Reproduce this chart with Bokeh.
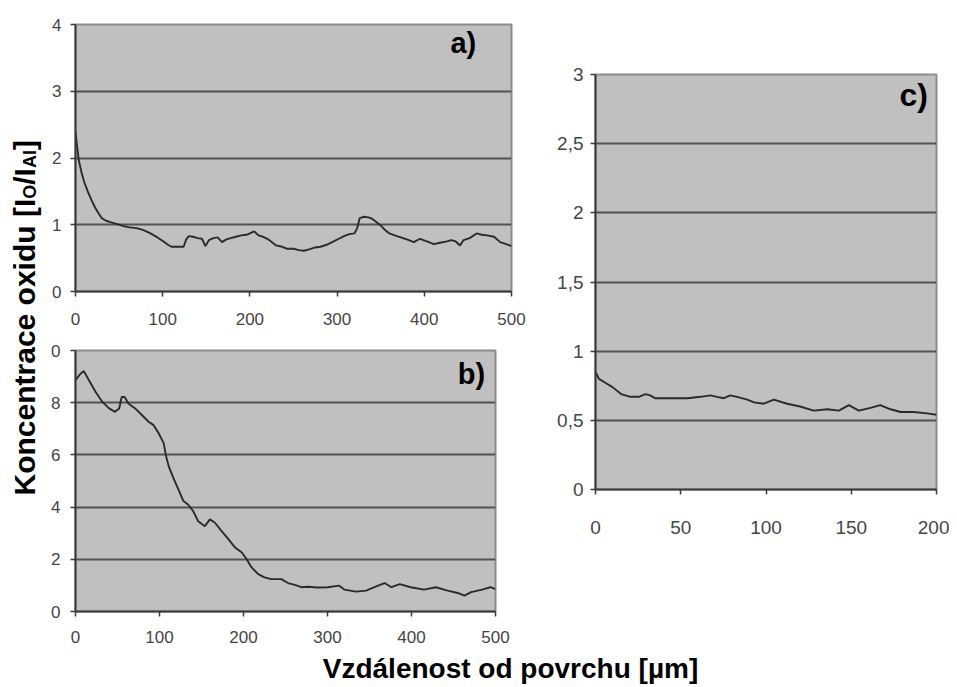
import math
from bokeh.plotting import figure
from bokeh.models import Range1d, FixedTicker, Label
from bokeh.layouts import row, column
from bokeh.embed import file_html
from bokeh.resources import INLINE

# ---------------- data ----------------
# panel a)
a_x = [0, 2, 4, 7, 10, 14, 18, 22, 26, 30, 35, 40, 48, 55, 62, 70, 78, 86, 94, 101,
       106, 110, 118, 124, 127, 130, 135, 140, 145, 149, 153, 158, 163, 168, 173, 178,
       184, 190, 196, 200, 205, 210, 215, 220, 225, 230, 237, 243, 250, 256, 262, 268,
       275, 281, 288, 296, 302, 308, 314, 320, 323, 326, 331, 336, 340, 345, 350, 355,
       360, 366, 373, 380, 388, 395, 403, 411, 418, 426, 431, 436, 441, 445, 452, 460,
       466, 472, 480, 487, 494, 500]
a_y = [2.40, 2.15, 1.95, 1.78, 1.64, 1.50, 1.38, 1.27, 1.18, 1.10, 1.06, 1.04, 1.01, 0.98,
       0.96, 0.95, 0.92, 0.87, 0.81, 0.75, 0.70, 0.67, 0.67, 0.67, 0.78, 0.83, 0.82, 0.80,
       0.79, 0.68, 0.77, 0.80, 0.81, 0.74, 0.78, 0.80, 0.82, 0.84, 0.85, 0.87, 0.90, 0.84,
       0.82, 0.79, 0.74, 0.69, 0.67, 0.64, 0.64, 0.62, 0.61, 0.63, 0.66, 0.67, 0.70, 0.75,
       0.79, 0.83, 0.86, 0.87, 0.95, 1.10, 1.12, 1.11, 1.09, 1.04, 0.99, 0.92, 0.87, 0.84,
       0.81, 0.78, 0.74, 0.79, 0.75, 0.71, 0.73, 0.75, 0.77, 0.75, 0.69, 0.77, 0.80, 0.87,
       0.85, 0.84, 0.82, 0.74, 0.71, 0.68]

# panel b)
b_x = [0, 6, 10, 16, 24, 32, 40, 47, 52, 55, 58.5, 63, 71, 79, 87, 93, 99, 105, 107.5,
       111, 116.6, 122.6, 128.5, 134, 140, 146, 154, 160, 166, 174, 182, 190, 198, 203.6,
       209.6, 217.5, 225, 233, 245, 253, 261, 269, 277, 287, 300, 314, 320, 334, 346,
       358, 368, 376, 386, 399, 415, 429, 443, 455, 463, 471, 484, 494, 500]
b_y = [8.86, 9.11, 9.21, 8.86, 8.41, 8.03, 7.78, 7.65, 7.78, 8.22, 8.22, 7.97, 7.78, 7.53,
       7.27, 7.14, 6.83, 6.45, 6.00, 5.56, 5.11, 4.67, 4.23, 4.10, 3.85, 3.46, 3.27, 3.53,
       3.40, 3.08, 2.77, 2.45, 2.26, 2.01, 1.69, 1.43, 1.31, 1.24, 1.24, 1.09, 1.02, 0.93,
       0.95, 0.92, 0.93, 0.99, 0.84, 0.76, 0.80, 0.96, 1.09, 0.93, 1.05, 0.93, 0.84, 0.93,
       0.80, 0.71, 0.61, 0.74, 0.84, 0.93, 0.86]

# panel c)
c_x = [0, 2, 6, 10, 15, 20.5, 25.4, 29.3, 32, 35, 44, 54, 61.6, 67.4, 71.3, 75.3, 79, 83,
       89, 93, 98.7, 104.6, 112.4, 120, 128, 136, 142.7, 148.6, 154.4, 161.3, 167, 173,
       179, 186.7, 194.5, 200]
c_y = [0.85, 0.80, 0.77, 0.74, 0.69, 0.67, 0.67, 0.69, 0.68, 0.66, 0.66, 0.66, 0.67, 0.68,
       0.67, 0.66, 0.68, 0.67, 0.65, 0.63, 0.62, 0.65, 0.62, 0.60, 0.57, 0.58, 0.57, 0.61,
       0.57, 0.59, 0.61, 0.58, 0.56, 0.56, 0.55, 0.54]

a_xticks = [0, 100, 200, 300, 400, 500]
a_yticks = [0, 1, 2, 3, 4]
b_xticks = [0, 100, 200, 300, 400, 500]
b_yticks = [0, 2, 4, 6, 8, 10]
b_ylabels = {10: "0"}
c_xticks = [0, 50, 100, 150, 200]
c_yticks = [0, 0.5, 1, 1.5, 2, 2.5, 3]
c_ylabels = {0: "0", 0.5: "0,5", 1: "1", 1.5: "1,5", 2: "2", 2.5: "2,5", 3: "3"}

y_title = "Koncentrace oxidu [I"
x_title = "Vzdálenost od povrchu [µm]"

FONT = "Liberation Sans"
BG = "#c0c0c0"
GRID = "#525252"
LINE = "#2a2a2a"


def panel(w, h, xr, yr, bl, br, bt, bb, xticks, yticks, ylabels, fs, xstand, ystand):
    p = figure(width=w, height=h, x_range=Range1d(*xr), y_range=Range1d(*yr),
               output_backend="svg", toolbar_location=None, title=None,
               min_border_left=bl, min_border_right=br,
               min_border_top=bt, min_border_bottom=bb)
    p.background_fill_color = BG
    p.border_fill_color = "white"
    p.outline_line_color = "#8c8c8c"
    p.outline_line_width = 2
    p.xgrid.visible = False
    p.ygrid.ticker = FixedTicker(ticks=yticks[1:-1])
    p.ygrid.grid_line_color = GRID
    p.ygrid.grid_line_width = 2
    p.xaxis.ticker = FixedTicker(ticks=xticks)
    p.yaxis.ticker = FixedTicker(ticks=yticks)
    if ylabels:
        p.yaxis.major_label_overrides = ylabels
    for ax in (p.xaxis, p.yaxis):
        ax.axis_line_color = "#3a3a3a"
        ax.axis_line_width = 2
        ax.major_tick_line_color = "#3a3a3a"
        ax.major_tick_line_width = 1.5
        ax.major_tick_out = 5
        ax.major_tick_in = 0
        ax.minor_tick_line_color = None
        ax.major_label_text_font = FONT
        ax.major_label_text_font_size = f"{fs}px"
        ax.major_label_text_color = "#454545"
    p.xaxis.major_label_standoff = xstand
    p.yaxis.major_label_standoff = ystand
    return p


# panels a) and b) share one column, so their frames get the same left/right borders
pa = panel(491, 332, (0, 500), (0, 4), 33, 22, 24, 41, a_xticks, a_yticks, None, 17, 16, 9)
pa.line(a_x, a_y, line_color=LINE, line_width=1.9)
pa.add_layout(Label(x=430, y=3.49, text="a)", text_font=FONT, text_font_style="bold",
                    text_font_size="29px", text_color="black"))

pb = panel(475, 313, (0, 500), (0, 10), 33, 22, 18, 32, b_xticks, b_yticks, b_ylabels, 17, 14, 10)
pb.line(b_x, b_y, line_color=LINE, line_width=1.9)
pb.add_layout(Label(x=455, y=8.48, text="b)", text_font=FONT, text_font_style="bold",
                    text_font_size="29px", text_color="black"))

pc = panel(416, 645, (0, 200), (0, 3), 62, 13, 74, 156, c_xticks, c_yticks, c_ylabels, 19, 26, 7)
pc.line(c_x, c_y, line_color=LINE, line_width=1.9)
pc.add_layout(Label(x=178.3, y=2.72, text="c)", text_font=FONT, text_font_style="bold",
                    text_font_size="32px", text_color="black"))


def blank(w, h):
    f = figure(frame_width=w, frame_height=h, x_range=Range1d(0, w), y_range=Range1d(0, h),
               output_backend="svg", toolbar_location=None, title=None,
               x_axis_type=None, y_axis_type=None,
               min_border_left=0, min_border_right=0, min_border_top=0, min_border_bottom=0)
    f.grid.visible = False
    f.outline_line_color = None
    f.background_fill_color = "white"
    f.border_fill_color = "white"
    return f


# y-axis title (rotated, with subscripts); each piece placed by its centre
PY_H = 645
SHIFT = 72  # measured correction for the rotated-label placement
py = blank(42, PY_H)
ang = math.pi / 2
# (text, font size, centre x in px, centre y in page px from top)
pieces = [(y_title, 30, 23.6, 344.6), ("O", 18, 29.8, 189.3), ("/I", 30, 23.6, 174.0),
          ("Al", 18, 29.8, 156.6), ("]", 30, 23.6, 142.6)]
for txt, size, cx, cy in pieces:
    py.add_layout(Label(x=cx, y=PY_H - cy + SHIFT, text=txt, angle=ang, text_font=FONT,
                        text_font_style="bold", text_font_size=f"{size}px",
                        text_color="black", text_align="center",
                        text_baseline="middle"))

# x-axis title
PX_H = 41
px = blank(949, PX_H)
px.add_layout(Label(x=510, y=PX_H - 22.5, text=x_title, text_font=FONT, text_font_style="bold",
                    text_font_size="28px", text_color="black", text_align="center",
                    text_baseline="middle"))

layout = column(row(py, column(pa, pb), pc), px)

open("out.html", "w").write(file_html(layout, INLINE))
